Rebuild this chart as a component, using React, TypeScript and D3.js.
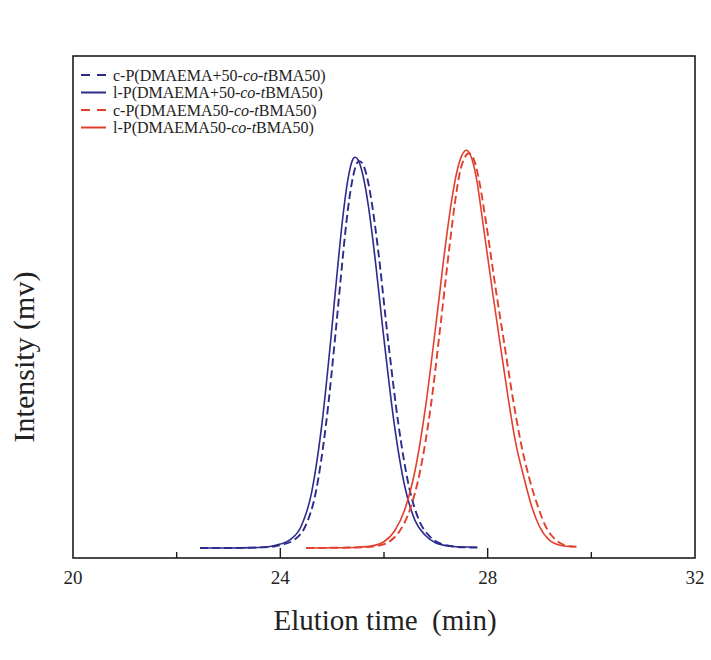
import React from 'react';
import * as d3 from 'd3';

// elution time (min), intensity (arb. units, baseline = 0)
const blueSolid: [number, number][] = [
  [22.45, 0], [23.0, 0], [23.5, 0.1], [23.8, 0.4], [24.0, 1.0], [24.2, 2.2], [24.4, 5.5],
  [24.6, 14], [24.8, 31.5], [25.0, 57], [25.1, 71], [25.2, 84], [25.3, 94], [25.4, 99.5],
  [25.44, 100], [25.5, 99.3], [25.6, 95], [25.7, 87.4], [25.8, 77.2], [26.0, 53.4],
  [26.2, 31.5], [26.4, 15.8], [26.6, 7.0], [26.8, 3.2], [27.0, 1.3], [27.2, 0.6],
  [27.4, 0.3], [27.8, 0.2],
];

const blueDashed: [number, number][] = [
  [22.45, 0], [23.0, 0], [23.5, 0.1], [23.88, 0.4], [24.08, 1.0], [24.28, 2.2], [24.48, 5.5],
  [24.68, 14], [24.88, 31.5], [25.08, 57], [25.18, 71], [25.28, 84], [25.38, 93.5],
  [25.48, 98.5], [25.52, 99], [25.58, 98.5], [25.68, 94.5], [25.78, 87], [25.88, 77],
  [26.08, 53], [26.28, 31.5], [26.48, 15.8], [26.68, 7.0], [26.88, 3.0], [27.08, 1.2],
  [27.28, 0.5], [27.48, 0.2], [27.8, 0.1],
];

const redSolid: [number, number][] = [
  [24.5, 0], [25.0, 0.05], [25.5, 0.2], [25.8, 0.6], [26.0, 1.6], [26.2, 4.3], [26.4, 9.8],
  [26.6, 19.9], [26.8, 36], [27.0, 57], [27.2, 79], [27.3, 88.5], [27.4, 95.9], [27.5, 100.4],
  [27.59, 101.8], [27.7, 99.4], [27.8, 93.3], [27.9, 84], [28.1, 65], [28.23, 53.2],
  [28.4, 38], [28.53, 27.6], [28.7, 18], [28.85, 10.6], [29.0, 5.5], [29.19, 2],
  [29.4, 0.7], [29.65, 0.3],
];

const redDashed: [number, number][] = [
  [24.5, 0], [25.0, 0.05], [25.6, 0.2], [25.9, 0.6], [26.1, 1.6], [26.3, 4.3], [26.5, 9.8],
  [26.7, 19.9], [26.9, 36], [27.09, 57], [27.28, 79], [27.37, 88.5], [27.46, 95.9],
  [27.56, 100], [27.64, 101], [27.75, 98.8], [27.85, 93], [27.96, 84], [28.17, 65],
  [28.31, 53.2], [28.49, 38], [28.63, 27.6], [28.8, 18], [28.97, 10.6], [29.12, 5.5],
  [29.32, 2], [29.5, 0.7], [29.72, 0.3],
];

const majorTicks = [24, 28];
const minorTicks = [22, 26, 30];
const tickLabels = [20, 24, 28, 32];

const legendItems = [
  { pre: 'c-P(DMAEMA+50-', color: '#2d2b8c', dashed: true },
  { pre: 'l-P(DMAEMA+50-', color: '#2d2b8c', dashed: false },
  { pre: 'c-P(DMAEMA50-', color: '#e2402f', dashed: true },
  { pre: 'l-P(DMAEMA50-', color: '#e2402f', dashed: false },
];

const series = [
  { data: blueSolid, color: '#2d2b8c', dashed: false },
  { data: blueDashed, color: '#2d2b8c', dashed: true },
  { data: redSolid, color: '#e2402f', dashed: false },
  { data: redDashed, color: '#e2402f', dashed: true },
];

const W = 711;
const H = 660;
const left = 73, right = 695, top = 56, bottom = 558;
const font = '"Liberation Serif", "Times New Roman", serif';

const App: React.FC = () => {
  const x = d3.scaleLinear().domain([20, 32]).range([left, right]);
  const y = d3.scaleLinear().domain([-2.56, 125.9]).range([bottom, top]);

  const line = d3.line<[number, number]>()
    .x(d => x(d[0]))
    .y(d => y(d[1]))
    .curve(d3.curveMonotoneX);

  return (
    <svg width={W} height={H} style={{ position: 'absolute', left: 0, top: 0, background: '#fff' }}
      fontFamily={font}>
      {series.map((s, i) => (
        <path key={i} d={line(s.data) || ''} fill="none" stroke={s.color}
          strokeWidth={s.dashed ? 1.9 : 1.6}
          strokeDasharray={s.dashed ? '8,4' : undefined} />
      ))}

      <rect x={left} y={top} width={right - left} height={bottom - top}
        fill="none" stroke="#1c1c1c" strokeWidth={1.6} />

      {majorTicks.map(t => (
        <line key={'M' + t} x1={x(t)} x2={x(t)} y1={bottom} y2={bottom - 10} stroke="#1c1c1c" strokeWidth={1.4} />
      ))}
      {minorTicks.map(t => (
        <line key={'m' + t} x1={x(t)} x2={x(t)} y1={bottom} y2={bottom - 6} stroke="#1c1c1c" strokeWidth={1.4} />
      ))}
      {tickLabels.map(t => (
        <text key={'l' + t} x={x(t)} y={584} textAnchor="middle" fontSize={19} fill="#222">{t}</text>
      ))}

      <text x={(left + right) / 2 + 1} y={630} textAnchor="middle" fontSize={29} fill="#222"
        style={{ whiteSpace: 'pre' }}>
        {'Elution time  (min)'}
      </text>
      <text transform="translate(34,357) rotate(-90)" textAnchor="middle" fontSize={30} fill="#222">
        Intensity (mv)
      </text>

      {legendItems.map((it, i) => {
        const cy = 75 + i * 17.5;
        return (
          <g key={i}>
            <line x1={81} x2={106} y1={cy} y2={cy} stroke={it.color} strokeWidth={2}
              strokeDasharray={it.dashed ? '9,7' : undefined} />
            <text x={113} y={cy + 5.5} fontSize={16} fill="#222">
              {it.pre}<tspan fontStyle="italic">co</tspan>-<tspan fontStyle="italic">t</tspan>BMA50)
            </text>
          </g>
        );
      })}
    </svg>
  );
};

export default App;
